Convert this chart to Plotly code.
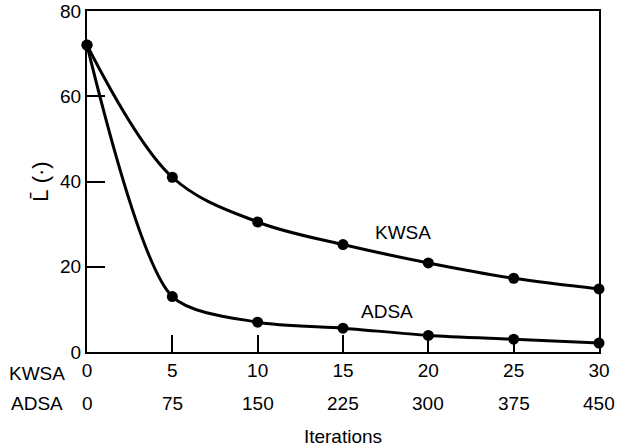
import plotly.graph_objects as go

# Data
kwsa_iter = [0, 5, 10, 15, 20, 25, 30]
kwsa_L = [72, 41, 30.5, 25.2, 20.9, 17.3, 14.8]
adsa_L = [72, 13, 7.0, 5.6, 3.9, 3.0, 2.1]
x_tick_vals = [0, 5, 10, 15, 20, 25, 30]
kwsa_tick_text = ["0", "5", "10", "15", "20", "25", "30"]
adsa_tick_text = ["0", "75", "150", "225", "300", "375", "450"]
y_tick_vals = [0, 20, 40, 60, 80]

FONT = "Liberation Sans, Arial, sans-serif"
FS = 19

W, H = 620, 448
plot_l, plot_r, plot_t, plot_b = 87, 599, 11, 352  # window pixels
pw = plot_r - plot_l

fig = go.Figure()
for name, ys, sm in [("KWSA", kwsa_L, 1.0), ("ADSA", adsa_L, 0.75)]:
    fig.add_trace(go.Scatter(
        x=kwsa_iter, y=ys, mode="lines+markers", name=name,
        line=dict(color="black", width=3, shape="spline", smoothing=sm),
        marker=dict(color="black", size=11),
        cliponaxis=False, showlegend=False,
    ))

# Curve labels
fig.add_annotation(x=18.5, y=28, text="KWSA", showarrow=False,
                   font=dict(family=FONT, size=FS, color="black"))
fig.add_annotation(x=17.6, y=9.4, text="ADSA", showarrow=False,
                   font=dict(family=FONT, size=FS, color="black"))

# Second row of tick labels (ADSA iterations)
for v, t in zip(x_tick_vals, adsa_tick_text):
    fig.add_annotation(x=v, y=0, xref="x", yref="y", text=t, showarrow=False,
                       yshift=-51, yanchor="middle",
                       font=dict(family=FONT, size=FS, color="black"))
# Row labels
row_x = (37 - plot_l) / pw
fig.add_annotation(x=row_x, y=0, xref="paper", yref="y",
                   text="KWSA", showarrow=False, yshift=-21, yanchor="middle",
                   xanchor="center", font=dict(family=FONT, size=FS, color="black"))
fig.add_annotation(x=row_x, y=0, xref="paper", yref="y",
                   text="ADSA", showarrow=False, yshift=-51, yanchor="middle",
                   xanchor="center", font=dict(family=FONT, size=FS, color="black"))

fig.update_layout(
    width=W, height=H,
    margin=dict(l=plot_l, r=W - plot_r, t=plot_t, b=H - plot_b, autoexpand=False),
    paper_bgcolor="white", plot_bgcolor="white",
    font=dict(family=FONT, size=FS, color="black"),
    xaxis=dict(
        range=[0, 30], tickvals=x_tick_vals, ticktext=kwsa_tick_text,
        ticks="inside", ticklen=17, tickwidth=2, tickcolor="black",
        showline=True, linecolor="black", linewidth=2, mirror=True,
        showgrid=False, zeroline=False, automargin=False,
        ticklabeloverflow="allow",
        title=dict(text="Iterations", standoff=50, font=dict(size=19)),
    ),
    yaxis=dict(
        range=[0, 80], tickvals=y_tick_vals,
        ticks="inside", ticklen=18, tickwidth=2, tickcolor="black",
        showline=True, linecolor="black", linewidth=2, mirror=True,
        showgrid=False, zeroline=False, automargin=False,
        ticklabeloverflow="allow",
        title=dict(text="L\u0304 (\u00b7)", standoff=5, font=dict(size=22)),
    ),
)

fig.write_html("out.html", config={"displayModeBar": False},
               post_script="document.body.style.margin='0';")
